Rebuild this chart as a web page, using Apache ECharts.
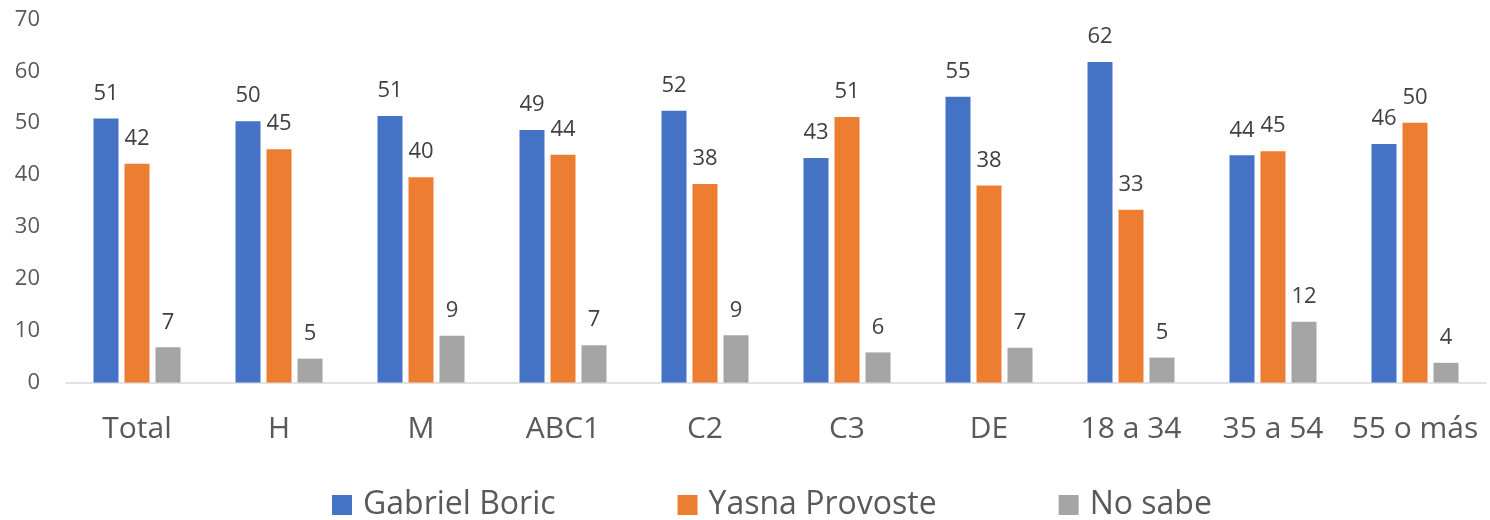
<!DOCTYPE html>
<html>
<head>
<meta charset="utf-8">
<script src="https://cdn.jsdelivr.net/npm/echarts@6.0.0/dist/echarts.min.js"></script>
<style>
  html, body { margin: 0; padding: 0; background: #fff; }
  #chart { width: 1490px; height: 520px; }
</style>
</head>
<body>
<div id="chart"></div>
<script>
  // categorias
  var categorias = ['Total', 'H', 'M', 'ABC1', 'C2', 'C3', 'DE', '18 a 34', '35 a 54', '55 o más'];
  var series_nombres = ['Gabriel Boric', 'Yasna Provoste', 'No sabe'];
  // valores (%)
  var boric = [50.9, 50.4, 51.4, 48.7, 52.4, 43.3, 55.1, 61.8, 43.8, 46.0];
  var provoste = [42.2, 45.0, 39.6, 43.9, 38.3, 51.2, 38.0, 33.3, 44.6, 50.1];
  var no_sabe = [6.8, 4.6, 9.0, 7.2, 9.1, 5.8, 6.7, 4.8, 11.7, 3.8];

  var fuente = '"Open Sans", "Noto Sans", sans-serif';

  function serie(nombre, datos) {
    return {
      name: nombre,
      type: 'bar',
      barWidth: 25,
      barGap: '24%',
      data: datos,
      label: {
        show: true,
        position: 'top',
        distance: 14,
        color: '#404040',
        fontSize: 22,
        fontFamily: fuente,
        formatter: function (p) { return Math.round(p.value); }
      }
    };
  }

  var option = {
    animation: false,
    color: ['#4472C4', '#ED7D31', '#A5A5A5'],
    grid: { left: 66, right: 4, top: 19.5, bottom: 137.5 },
    legend: {
      data: series_nombres,
      left: 327,
      top: 484,
      itemWidth: 20,
      itemHeight: 20,
      itemGap: 122,
      icon: 'rect',
      textStyle: { color: '#595959', fontSize: 32, fontFamily: fuente, padding: [0, 0, 0, 6] }
    },
    xAxis: {
      type: 'category',
      data: categorias,
      axisTick: { show: false },
      axisLine: { lineStyle: { color: '#D9D9D9', width: 1.5 } },
      axisLabel: { interval: 0, color: '#595959', fontSize: 30, fontFamily: fuente, margin: 32 }
    },
    yAxis: {
      type: 'value',
      min: 0,
      max: 70,
      interval: 10,
      splitLine: { show: false },
      axisLine: { show: false },
      axisLabel: { color: '#595959', fontSize: 22, fontFamily: fuente, margin: 26 }
    },
    series: [
      serie(series_nombres[0], boric),
      serie(series_nombres[1], provoste),
      serie(series_nombres[2], no_sabe)
    ]
  };

  var myChart = echarts.init(document.getElementById('chart'));
  myChart.setOption(option);
</script>
</body>
</html>
